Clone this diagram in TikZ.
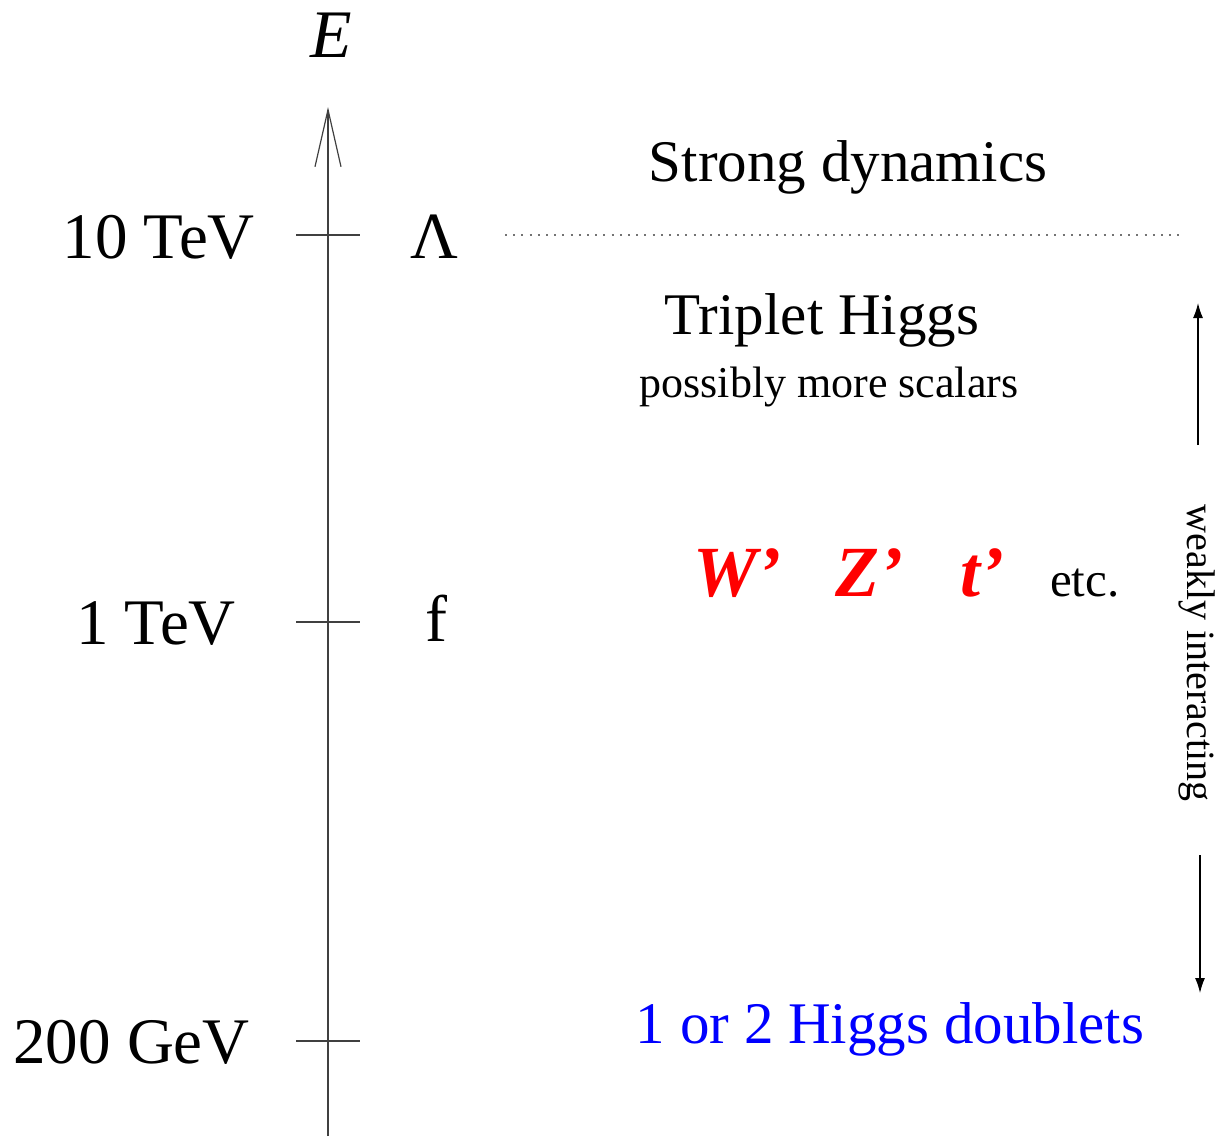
\documentclass[tikz,border=0pt]{standalone}
\usepackage{fontspec}
\setmainfont{Liberation Serif}
\usetikzlibrary{arrows.meta}
\begin{document}
\begin{tikzpicture}[x=1pt,y=-1pt,
  axisline/.style={line width=1.2pt, draw=black!75},
  lbl/.style={inner sep=0pt, font=\fontsize{65}{72}\selectfont},
  sym/.style={inner sep=0pt, font=\fontsize{66}{72}\selectfont},
  elbl/.style={inner sep=0pt, font=\fontsize{68}{74}\selectfont\itshape},
  big/.style={inner sep=0pt, font=\fontsize{59}{66}\selectfont},
  small/.style={inner sep=0pt, font=\fontsize{44}{50}\selectfont},
  part/.style={inner sep=0pt, text=red, font=\fontsize{72}{80}\selectfont\bfseries\itshape},
  etcl/.style={inner sep=0pt, font=\fontsize{49}{54}\selectfont},
  side/.style={inner sep=0pt, font=\fontsize{40}{46}\selectfont},
  dotline/.style={draw=black!55, line width=2pt, dash pattern=on 2pt off 6.2pt},
  sidearrow/.style={line width=1.3pt, -{Latex[length=15pt,width=10pt]}}
]
\useasboundingbox (0,0) rectangle (1222,1136);

% axis
\coordinate (axbot) at (328,1136);
\coordinate (axtop) at (328,107);
\draw[axisline, -{Straight Barb[length=57pt,width=26pt]}] (axbot) -- (axtop);
\node[elbl, anchor=base] (E) at (331,57) {E};

% ticks
\coordinate (k1a) at (296,235);  \coordinate (k1b) at (360,235);
\coordinate (k2a) at (296,622);  \coordinate (k2b) at (360,622);
\coordinate (k3a) at (296,1041); \coordinate (k3b) at (360,1041);
\draw[axisline] (k1a) -- (k1b);
\draw[axisline] (k2a) -- (k2b);
\draw[axisline] (k3a) -- (k3b);

% axis labels
\node[lbl, anchor=base east] (t10) at (255,258) {10 TeV};
\node[lbl, anchor=base east] (t1) at (236,644) {1 TeV};
\node[lbl, anchor=base east] (t200) at (250,1063) {200 GeV};
\node[sym, anchor=base] (lam) at (434,258) {Λ};
\node[sym, anchor=base] (fs) at (436,641) {f};

% dotted separator
\coordinate (d1) at (505,235);
\coordinate (d2) at (1185,235);
\draw[dotline] (d1) -- (d2);

% right-hand texts
\node[big, anchor=base] (strong) at (848,181) {Strong dynamics};
\node[big, anchor=base] (trip) at (822,334) {Triplet Higgs};
\node[small, anchor=base] (poss) at (829,397) {possibly more scalars};
\node[part, anchor=base west] (wp) at (693,596) {W’};
\node[part, anchor=base west] (zp) at (835,596) {Z’};
\node[part, anchor=base west] (tp) at (960,596) {t’};
\node[etcl, anchor=base west] (etc) at (1050,596) {etc.};
\node[big, anchor=base, text={rgb,255:red,0;green,0;blue,255}] (higgs) at (890,1043) {1 or 2 Higgs doublets};

% weakly interacting
\node[side, rotate=-90] (weak) at (1197,653) {weakly interacting};
\coordinate (ua) at (1198,445);
\coordinate (ub) at (1198,303);
\coordinate (da) at (1200,855);
\coordinate (db) at (1200,993);
\draw[sidearrow] (ua) -- (ub);
\draw[sidearrow] (da) -- (db);
\end{tikzpicture}
\end{document}
